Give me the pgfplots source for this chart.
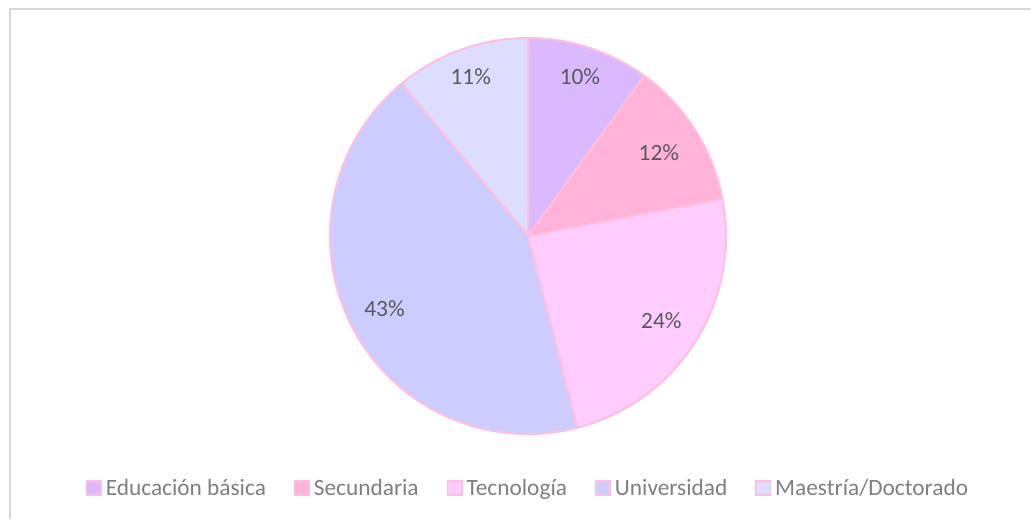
\documentclass[border=0pt]{standalone}
\usepackage{pgfplots}
\usepackage{pgfplotstable}
\pgfplotsset{compat=1.18}
\usepackage{fontspec}
\setmainfont{Carlito}

\definecolor{c0}{HTML}{DAB9FF}
\definecolor{c1}{HTML}{FFB3D9}
\definecolor{c2}{HTML}{FFCCFF}
\definecolor{c3}{HTML}{CCCCFF}
\definecolor{c4}{HTML}{DDDDFF}
\definecolor{edge}{HTML}{FFBFDF}
\definecolor{labtext}{HTML}{595959}
\definecolor{legtext}{HTML}{7F7F7F}
\definecolor{frame}{HTML}{D9D9D9}

% share in percent, lr = label distance from centre (px)
\pgfplotstableread[col sep=comma]{
label,value,lr
Educación básica,10,168
Secundaria,12,155
Tecnología,24,158
Universidad,43,161
Maestría/Doctorado,11,169
}\piedata

% slice angles, clockwise from 12 o'clock
\def\cumul{0}
\pgfplotsforeachungrouped \i in {0,...,4}{%
  \pgfplotstablegetelem{\i}{value}\of\piedata
  \let\pv\pgfplotsretval
  \pgfplotstablegetelem{\i}{lr}\of\piedata
  \let\pr\pgfplotsretval
  \pgfmathsetmacro\sa{90-3.6*\cumul}%
  \pgfmathsetmacro\newcum{\cumul+\pv}%
  \global\let\cumul\newcum
  \pgfmathsetmacro\sb{90-3.6*\cumul}%
  \pgfmathsetmacro\sm{(\sa+\sb)/2}%
  \pgfmathsetmacro\rr{0.75*\pr}%
  \expandafter\xdef\csname pieA\i\endcsname{\sa}%
  \expandafter\xdef\csname pieB\i\endcsname{\sb}%
  \expandafter\xdef\csname pieM\i\endcsname{\sm}%
  \expandafter\xdef\csname pieR\i\endcsname{\rr pt}%
  \expandafter\xdef\csname pieV\i\endcsname{\pv}%
}

\begin{document}
\begin{tikzpicture}
\begin{axis}[
  width=773.25pt, height=389.25pt,
  scale only axis,
  hide axis,
  xmin=0, xmax=1031,
  ymin=0, ymax=519,
  clip=true,
  legend columns=5,
  legend cell align=left,
  legend style={
    at={(axis description cs:0.5131,0.0597)}, anchor=center,
    draw=none, fill=none,
    font=\fontsize{17.5}{20}\selectfont,
    text=legtext,
    nodes={inner xsep=3pt},
    /tikz/every even column/.append style={column sep=18pt},
  },
  legend image code/.code={%
    \draw[#1, line width=1.1pt] (0pt,-5.4pt) rectangle (10.8pt,5.4pt);},
]
\path (axis cs:0,0) rectangle (axis cs:1031,519);
\draw[frame, line width=1.5pt] (axis cs:10,0) -- (axis cs:10,510) -- (axis cs:1031,510);

\pgfplotsinvokeforeach{0,...,4}{%
  \fill[fill=c#1, draw=edge, line width=1.5pt, line join=round]
    (axis cs:528,283) -- ++(\csname pieA#1\endcsname:148.5pt)
    arc[start angle=\csname pieA#1\endcsname,
        end angle=\csname pieB#1\endcsname, radius=148.5pt] -- cycle;
}
\pgfplotsinvokeforeach{0,...,4}{%
  \path (axis cs:528,283) ++(\csname pieM#1\endcsname:\csname pieR#1\endcsname)
    node[text=labtext, font=\fontsize{17.5}{20}\selectfont]
    {\csname pieV#1\endcsname\%};
}

\addlegendimage{fill=c0, draw=edge}
\addlegendimage{fill=c1, draw=edge}
\addlegendimage{fill=c2, draw=edge}
\addlegendimage{fill=c3, draw=edge}
\addlegendimage{fill=c4, draw=edge}
\legend{Educación básica, Secundaria, Tecnología, Universidad, Maestría/Doctorado}
\end{axis}
\end{tikzpicture}
\end{document}
